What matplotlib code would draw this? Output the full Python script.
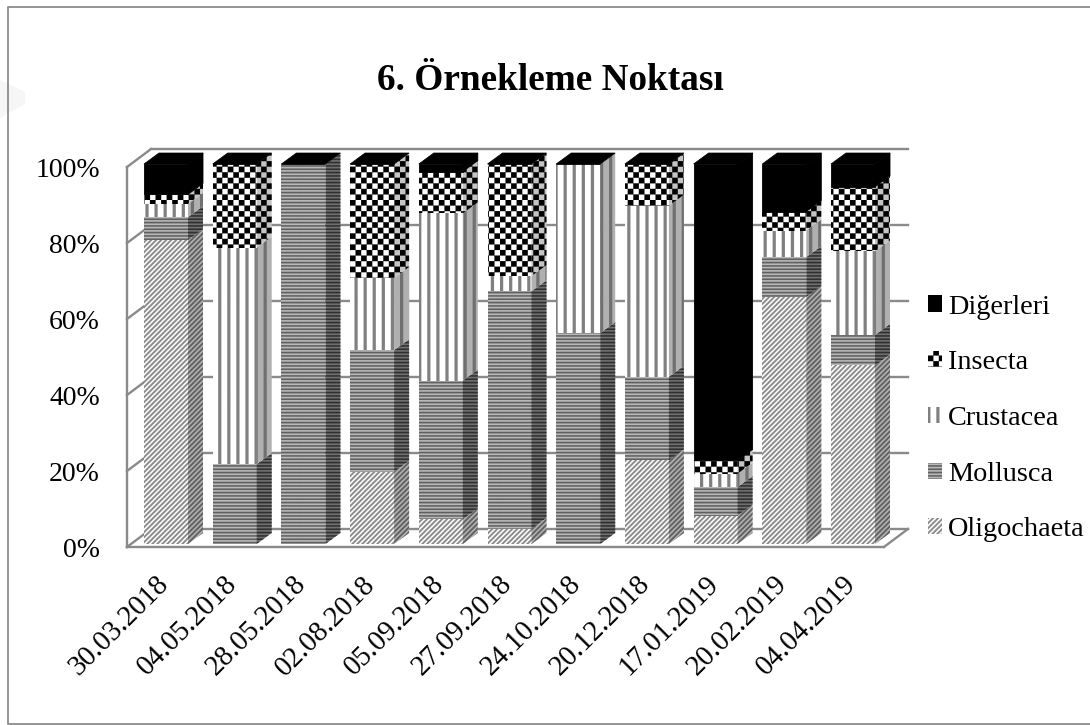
import numpy as np
import matplotlib
matplotlib.use("Agg")
import matplotlib.pyplot as plt
import matplotlib.hatch as mhatch
from matplotlib.lines import Line2D
from matplotlib.path import Path
from matplotlib.patches import Polygon, Patch

dates = ["30.03.2018", "04.05.2018", "28.05.2018", "02.08.2018", "05.09.2018", "27.09.2018",
         "24.10.2018", "20.12.2018", "17.01.2019", "20.02.2019", "04.04.2019"]
oligochaeta = [80, 0, 0, 19, 6.5, 4, 0, 22, 7.5, 65, 47]
mollusca = [6, 21, 100, 32, 36.5, 62.5, 55.5, 22, 7.5, 10.5, 8]
crustacea = [3.5, 57, 0, 19, 44, 4, 44.5, 45, 3.5, 7, 22]
insecta = [2.5, 22, 0, 30, 11, 29.5, 0, 11, 3.5, 5, 17]
digerleri = [8, 0, 0, 0, 2, 0, 0, 0, 78, 12.5, 6]
series_names = ["Oligochaeta", "Mollusca", "Crustacea", "Insecta", "Diğerleri"]
y_ticks = [0, 20, 40, 60, 80, 100]
title = "6. Örnekleme Noktası"

class _Filled(mhatch.HatchPatternBase):
    filled = True
    def __init__(self, hatch, density):
        self.quads = self.make() if self.char in hatch else []
        self.num_vertices = len(self.quads) * 5
    def set_vertices_and_codes(self, vertices, codes):
        for i, q in enumerate(self.quads):
            vertices[i * 5:i * 5 + 5] = list(q) + [q[0]]
            codes[i * 5:i * 5 + 5] = [Path.MOVETO, Path.LINETO, Path.LINETO, Path.LINETO, Path.CLOSEPOLY]

def box(x0, y0, x1, y1):
    return [(x0, y0), (x1, y0), (x1, y1), (x0, y1)]

class Checker(_Filled):
    char = 'C'
    def make(self):
        n = 18
        return [box(i / n, j / n, (i + 1) / n, (j + 1) / n)
                for i in range(n) for j in range(n) if (i + j) % 2 == 0]

class VStripes(_Filled):
    char = 'V'
    def make(self):
        n = 11
        return [box(i / n, 0, (i + 0.34) / n, 1) for i in range(n)]

class HStripes(_Filled):
    char = 'H'
    def make(self):
        n = 30
        return [box(0, i / n, 1, (i + 0.45) / n) for i in range(n)]

class DStripes(_Filled):
    char = 'D'
    def make(self):
        n = 20
        return [[(i / n, 0), ((i + 0.5) / n, 0), ((i + 0.5) / n + 1, 1), (i / n + 1, 1)]
                for i in range(-n - 1, n + 1)]

mhatch._hatch_types.extend([Checker, VStripes, HStripes, DStripes])
mhatch._validate_hatch_pattern = lambda hatch: None

plt.rcParams['font.family'] = ['Liberation Serif', 'DejaVu Serif']
plt.rcParams['hatch.linewidth'] = 0.1

W, H = 1090, 725
fig = plt.figure(figsize=(W / 100, H / 100), dpi=100)
px_l, px_r, px_b, px_t = 128, 884, 544, 164
ax = fig.add_axes([px_l / W, 1 - px_b / H, (px_r - px_l) / W, (px_b - px_t) / H])
ax.set_xlim((px_l - 166) / 68.7, (px_r - 166) / 68.7)
ax.set_ylim(0, 100)
ax.set_axis_off()
px_x = 1 / 68.7
px_y = 1 / 3.8

# faint mark at the left edge and the outer frame (top, left, bottom)
fig.add_artist(Polygon([(0, 1 - 80 / H), (25 / W, 1 - 92 / H), (25 / W, 1 - 104 / H), (0, 1 - 118 / H)],
                       closed=True, fc='#f6f6f6', ec='none', transform=fig.transFigure))
frame = '#8c8c8c'
fig.add_artist(Line2D([1, 8 / W, 8 / W, 1], [1 - 6.5 / H, 1 - 6.5 / H, 1 - 724 / H, 1 - 724 / H],
                      color=frame, lw=1.3, transform=fig.transFigure))

# walls
grid = '#8a8a8a'
x0 = -0.553 - 1 * px_x
back_dx, back_dy = 24 * px_x, 18 * px_y
base = -3 * px_y
x_end = 10.45
lk = dict(color=grid, lw=1.7, clip_on=False, solid_capstyle='projecting', zorder=1)
for v in y_ticks:
    yf = v + base
    ax.plot([x0, x0 + back_dx], [yf, yf + back_dy], **lk)
    ax.plot([x0 + back_dx, x_end + back_dx], [yf + back_dy, yf + back_dy], **lk)
ax.plot([x0, x0], [base, 100 + base], **lk)
ax.plot([x0, x_end], [base, base], **lk)
ax.plot([x_end, x_end + back_dx], [base, base + back_dy], **lk)

# bars
styles = [
    dict(hatch='D', fc='#ffffff', ec='#8a8a8a', side_fc='#b4b4b4', side_ec='#606060', lw=0),
    dict(hatch='H', fc='#b8b8b8', ec='#606060', side_fc='#707070', side_ec='#303030', lw=0),
    dict(hatch='V', fc='#ffffff', ec='#808080', side_fc='#b0b0b0', side_ec='#707070', lw=0),
    dict(hatch='C', fc='#ffffff', ec='#000000', side_fc='#c4c4c4', side_ec='#000000', lw=0),
    dict(hatch='', fc='#000000', ec='#000000', side_fc='#000000', side_ec='#000000', lw=0.6),
]
data = np.array([oligochaeta, mollusca, crustacea, insecta, digerleri], dtype=float)
x = np.arange(len(dates))
bw = 44 * px_x
dx, dy = 15 * px_x, 11 * px_y
bottom = np.zeros(len(dates))
for vals, st in zip(data, styles):
    ax.bar(x, vals, bottom=bottom, width=bw, color=st['fc'], edgecolor=st['ec'], hatch=st['hatch'],
           linewidth=st['lw'], zorder=3)
    for xi, b, v in zip(x, bottom, vals):
        if v > 0:
            r = xi + bw / 2
            ax.add_patch(Polygon([(r, b), (r + dx, b + dy), (r + dx, b + v + dy), (r, b + v)],
                                 closed=True, facecolor=st['side_fc'], edgecolor=st['side_ec'],
                                 hatch=st['hatch'], linewidth=st['lw'], zorder=3, clip_on=False))
    bottom += vals
for xi in x:
    ax.add_patch(Polygon([(xi - bw / 2, 100), (xi + bw / 2, 100), (xi + bw / 2 + dx, 100 + dy),
                          (xi - bw / 2 + dx, 100 + dy)], closed=True, fc='black', ec='black', lw=0.5,
                         zorder=4, clip_on=False))

# text
for v in y_ticks:
    ax.annotate(f"{v}%", xy=(x0, v), xytext=(-19.5, -4.4), textcoords='offset points',
                ha='right', va='center', fontsize=20, color='black', annotation_clip=False)
for xi, d in zip(x, dates):
    ax.annotate(d, xy=(xi, 0), xytext=(-7.5, -19.5), textcoords='offset points', ha='right', va='top',
                rotation=45, rotation_mode='anchor', fontsize=20.6, color='black', annotation_clip=False)
fig.text(550 / W, 1 - 80 / H, title, ha='center', va='center', fontsize=26.8, fontweight='bold', color='black')

handles = [Patch(facecolor=st['fc'], edgecolor=st['ec'], hatch=st['hatch'], linewidth=0, label=n)
           for n, st in zip(series_names, styles)][::-1]
fig.legend(handles=handles, loc='upper left', bbox_to_anchor=(928 / W, 1 - 294.5 / H),
           bbox_transform=fig.transFigure, frameon=False, fontsize=20.3, handlelength=0.5,
           handleheight=0.5, handletextpad=0.22, labelspacing=1.09, borderpad=0, borderaxespad=0)

fig.savefig("out.png", dpi=100)
